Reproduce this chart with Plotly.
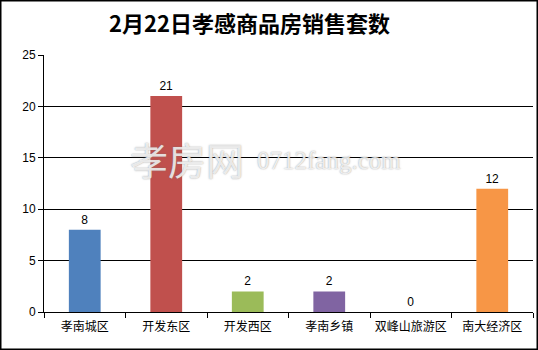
import plotly.graph_objects as go

categories = ["孝南城区", "开发东区", "开发西区", "孝南乡镇", "双峰山旅游区", "南大经济区"]
values = [8, 21, 2, 2, 0, 12]
colors = ["#4F81BD", "#C0504D", "#9BBB59", "#8064A2", "#4BACC6", "#F79646"]
y_ticks = [0, 5, 10, 15, 20, 25]
title_text = "2月22日孝感商品房销售套数"

L, R, T, B = 44, 5, 55, 38
W, H = 538 - L - R, 350 - T - B


def px(x):
    return (x - L) / W


def py(y):
    return (350 - B - y) / H


fig = go.Figure()
fig.add_trace(go.Bar(
    x=categories, y=values, marker=dict(color=colors, line=dict(width=0)),
    width=0.39, text=[str(v) for v in values], textposition="outside",
    textfont=dict(family="Liberation Sans, Arial", size=12, color="#000"),
    cliponaxis=False,
))

fig.update_layout(
    width=538, height=350,
    margin=dict(l=L, r=R, t=T, b=B, autoexpand=False),
    paper_bgcolor="white", plot_bgcolor="white",
    showlegend=False,
    font=dict(family="Noto Sans CJK SC, Liberation Sans", size=12, color="#000"),
    xaxis=dict(
        type="category", showline=True, linecolor="#000", linewidth=1,
        ticks="outside", tickson="boundaries", ticklen=5, tickcolor="#000",
        showgrid=False, tickangle=0, automargin=False, ticklabelstandoff=4,
        tickfont=dict(family="Noto Sans CJK SC", size=12, color="#000"),
    ),
    yaxis=dict(
        range=[0, 25], tickvals=y_ticks, showline=True, linecolor="#000", linewidth=1,
        ticks="outside", ticklen=5, tickcolor="#000", automargin=False,
        showgrid=True, gridcolor="#000", gridwidth=1, zeroline=False,
        tickfont=dict(family="Liberation Sans, Arial", size=12, color="#000"),
    ),
    shapes=[dict(type="rect", xref="paper", yref="paper", x0=px(0.75), x1=px(537.25),
                 y0=py(349.25), y1=py(0.75), line=dict(color="#000", width=1.5),
                 fillcolor="rgba(0,0,0,0)", layer="above")],
    annotations=[
        dict(text="<b>" + title_text + "</b>", xref="paper", yref="paper",
             x=px(249), y=py(22), showarrow=False, xanchor="center", yanchor="middle",
             font=dict(family="Noto Sans CJK SC", size=22, color="#000")),
        dict(text="孝房网", xref="paper", yref="paper", x=px(128), y=py(158),
             showarrow=False, xanchor="left", yanchor="middle",
             font=dict(family="Noto Sans CJK SC", size=38, color="rgba(255,255,255,0.8)",
                       shadow="0px 0px 1.5px #777")),
        dict(text="0712fang.com", xref="paper", yref="paper", x=px(255), y=py(160),
             showarrow=False, xanchor="left", yanchor="middle",
             font=dict(family="Liberation Serif", size=25, color="rgba(255,255,255,0.8)",
                       shadow="0px 0px 1.5px #777")),
    ],
)

fig.write_html("out.html")
